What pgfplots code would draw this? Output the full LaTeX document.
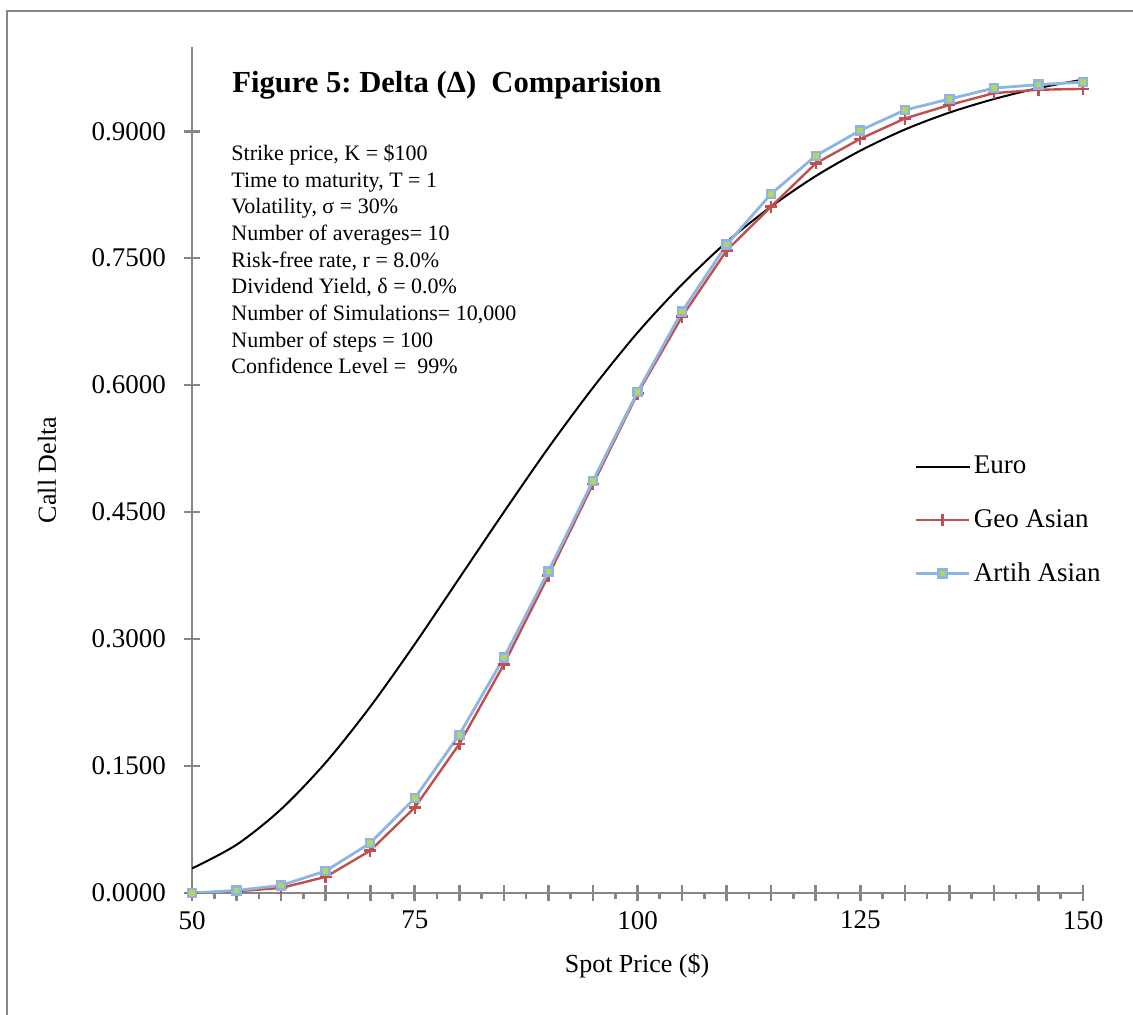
\documentclass[border=0pt]{standalone}
\usepackage{fontspec}
\setmainfont{Liberation Serif}
\usepackage{pgfplots}
\pgfplotsset{compat=1.18}
\definecolor{axgray}{HTML}{868686}
\definecolor{geored}{HTML}{C0504D}
\definecolor{arblue}{HTML}{8DB4E2}
\definecolor{argreen}{HTML}{B5D65E}

\begin{document}
\frenchspacing
\begin{tikzpicture}
\begin{axis}[
    at={(96pt,61pt)}, anchor=south west,
    width=445.5pt, height=423.2pt, scale only axis,
    xmin=50, xmax=150, ymin=0, ymax=1,
    axis x line=bottom, axis y line=left,
    axis line style={-, draw=axgray, line width=1.3pt},
    every tick/.style={axgray, line width=1.3pt},
    tick align=center,
    major tick length=8pt,
    xtick={50,55,...,150},
    xticklabels={50,,,,,75,,,,,100,,,,,125,,,,,150},
    xticklabel style={yshift=-1.5pt},
    extra x ticks={52.5,57.5,...,147.5},
    extra x tick labels={},
    extra x tick style={tick align=outside, major tick length=3pt},
    ytick={0,0.15,0.3,0.45,0.6,0.75,0.9},
    yticklabel style={xshift=-5.5pt, /pgf/number format/fixed, /pgf/number format/fixed zerofill, /pgf/number format/precision=4},
    /pgf/number format/assume math mode=true,
    tick label style={font=\fontsize{13.5}{16}\selectfont, black},
    legend style={at={(0.811,0.52)}, anchor=north west, draw=none, fill=none,
        font=\fontsize{13.5}{16}\selectfont, row sep=13.2pt, inner sep=0pt,
        nodes={inner sep=1.5pt, xshift=1.5pt}},
    legend cell align=left,
    legend image code/.code={\draw[mark repeat=2,mark phase=2] plot coordinates {(0pt,0pt) (13pt,0pt) (26.5pt,0pt)};},
]
% Euro
\addplot[black, line width=1pt, smooth, no markers] coordinates {
    (50,0.029) (55,0.057) (60,0.099) (65,0.154) (70,0.220) (75,0.294)
    (80,0.372) (85,0.450) (90,0.526) (95,0.597) (100,0.662) (105,0.719)
    (110,0.769) (115,0.811) (120,0.847) (125,0.877) (130,0.902) (135,0.922)
    (140,0.938) (145,0.951) (150,0.961)
};
\addlegendentry{Euro}
% Geo Asian
\addplot[geored, line width=1.2pt, mark=+, mark size=3pt] coordinates {
    (50,0.000) (55,0.002) (60,0.006) (65,0.019) (70,0.050) (75,0.101)
    (80,0.176) (85,0.270) (90,0.375) (95,0.483) (100,0.590) (105,0.681)
    (110,0.759) (115,0.811) (120,0.862) (125,0.891) (130,0.915) (135,0.931)
    (140,0.945) (145,0.949) (150,0.950)
};
\addlegendentry{Geo Asian}
% Arith Asian
\addplot[arblue, line width=1.4pt, mark=square*, mark size=2pt,
    mark options={fill=argreen, draw=arblue, line width=1.2pt}] coordinates {
    (50,0.000) (55,0.003) (60,0.009) (65,0.026) (70,0.059) (75,0.112)
    (80,0.187) (85,0.278) (90,0.380) (95,0.487) (100,0.592) (105,0.687)
    (110,0.766) (115,0.826) (120,0.871) (125,0.901) (130,0.925) (135,0.938)
    (140,0.951) (145,0.955) (150,0.958)
};
\addlegendentry{Artih Asian}
\end{axis}

% title and notes
\node[anchor=west, inner sep=0pt, font=\fontsize{15.3}{18}\selectfont\bfseries] at (116pt,465pt)
    {Figure 5: Delta (Δ)~ Comparision};
\node[anchor=north west, align=left, inner sep=0pt,
    font=\fontsize{11}{13.35}\selectfont] at (115.5pt,435.5pt) {%
    Strike price, K = \$100\\
    Time to maturity, T = 1\\
    Volatility, σ = 30\%\\
    Number of averages= 10\\
    Risk-free rate, r = 8.0\%\\
    Dividend Yield, δ = 0.0\%\\
    Number of Simulations= 10,000\\
    Number of steps = 100\\
    Confidence Level =~ 99\%};

% axis titles
\node[rotate=90, font=\fontsize{13}{15}\selectfont] at (23.5pt,272.5pt) {Call Delta};
\node[font=\fontsize{13}{15}\selectfont] at (318.5pt,24.5pt) {Spot Price (\$)};

% chart area frame
\draw[axgray, line width=1.3pt] (3.5pt,-20pt) rectangle (620pt,502pt);
\pgfresetboundingbox
\useasboundingbox (0,0) rectangle (566.5pt,507.5pt);
\end{tikzpicture}
\end{document}
